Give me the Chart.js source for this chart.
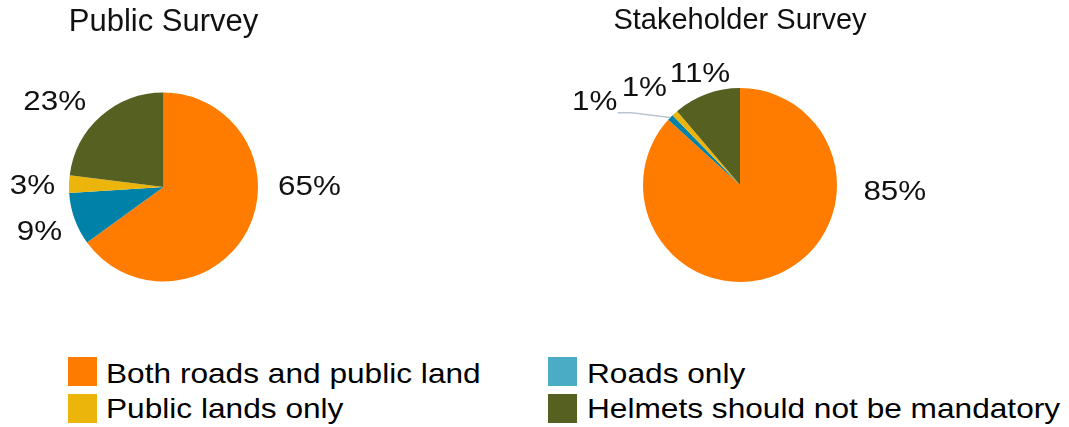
<!DOCTYPE html>
<html>
<head>
<meta charset="utf-8">
<script src="https://cdn.jsdelivr.net/npm/chart.js@4"></script>
<style>
  html, body { margin:0; padding:0; background:#fff; width:1069px; height:427px; overflow:hidden; font-family:"Liberation Sans", Arial, sans-serif; }
  #w1 { position:absolute; left:0; top:0; width:530px; height:300px; }
  #w2 { position:absolute; left:530px; top:0; width:539px; height:300px; }
  .box { position:absolute; width:29px; height:29px; }
  .txt { position:absolute; font-size:28px; line-height:28px; color:#000; white-space:nowrap; transform:scaleX(1.13); transform-origin:left center; }
</style>
</head>
<body>
<div id="w1"><canvas id="c1"></canvas></div>
<div id="w2"><canvas id="c2"></canvas></div>
<div id="legend"></div>
<script>
// ---- data ----
const categories = ['Both roads and public land', 'Roads only', 'Public lands only', 'Helmets should not be mandatory'];
const publicValues = [65, 9, 3, 23];
const stakeholderValues = [85, 1, 1, 11];
const chartTitles = ['Public Survey', 'Stakeholder Survey'];

// ---- styles ----
const sliceColors = ['#FF7C00', '#0081A8', '#EBB50B', '#556021'];
const legendColors = ['#FF7C00', '#4BACC6', '#EBB50B', '#556021'];
const textColor = '#111';

const pctLabelPlugin = {
  id: 'pctLabels',
  afterDatasetsDraw(chart, args, opts) {
    const ctx = chart.ctx;
    const meta = chart.getDatasetMeta(0);
    const ds = chart.data.datasets[0];
    meta.data.forEach((arc, i) => {
      const p = opts.place[i];
      const a = p.angle * Math.PI / 180;
      const cx = arc.x, cy = arc.y;
      const lx = cx + p.dist * Math.sin(a), ly = cy - p.dist * Math.cos(a);
      if (p.leader) {
        const mid = (arc.startAngle + arc.endAngle) / 2;
        const sx = cx + arc.outerRadius * Math.cos(mid), sy = cy + arc.outerRadius * Math.sin(mid);
        ctx.save();
        ctx.strokeStyle = opts.leaderColor;
        ctx.lineWidth = 1.5;
        ctx.beginPath();
        ctx.moveTo(sx, sy);
        ctx.lineTo(lx + p.leader[0][0], ly + p.leader[0][1]);
        ctx.lineTo(lx + p.leader[1][0], ly + p.leader[1][1]);
        ctx.stroke();
        ctx.restore();
      }
      ctx.save();
      ctx.translate(lx, ly);
      ctx.scale(opts.stretch, 1);
      ctx.font = opts.font;
      ctx.fillStyle = opts.color;
      ctx.textAlign = 'center';
      ctx.textBaseline = 'middle';
      ctx.fillText(ds.data[i] + '%', 0, 0);
      ctx.restore();
    });
  }
};

function makePie(id, title, values, titleSize, titlePad, layoutPad, place) {
  return new Chart(document.getElementById(id), {
    type: 'pie',
    data: {
      labels: categories,
      datasets: [{ data: values, backgroundColor: sliceColors, borderWidth: 0, hoverOffset: 0 }]
    },
    options: {
      responsive: true,
      maintainAspectRatio: false,
      animation: false,
      layout: { padding: layoutPad },
      plugins: {
        legend: { display: false },
        tooltip: { enabled: false },
        title: {
          display: true,
          text: title,
          color: textColor,
          font: { family: '"Liberation Sans", Arial, sans-serif', size: titleSize, weight: 'normal' },
          padding: titlePad
        },
        pctLabels: {
          place: place,
          font: '28px "Liberation Sans", Arial, sans-serif',
          color: textColor,
          stretch: 1.12,
          leaderColor: '#B9C5D1'
        }
      }
    },
    plugins: [pctLabelPlugin]
  });
}

makePie('c1', chartTitles[0], publicValues, 31, { top: 4, bottom: 51.3 }, { left: 0, right: 203, top: 0, bottom: 18.5 }, [
  { angle: 90, dist: 146 },
  { angle: 250, dist: 132 },
  { angle: 270.4, dist: 131 },
  { angle: 308, dist: 138 }
]);

makePie('c2', chartTitles[1], stakeholderValues, 29, { top: 3.6, bottom: 49.6 }, { left: 0, right: 119, top: 0, bottom: 18 }, [
  { angle: 92.8, dist: 155 },
  { angle: 299.5, dist: 167, leader: [[37, 10], [23, 10]] },
  { angle: 315.3, dist: 136 },
  { angle: 340.2, dist: 118 }
]);

// ---- legend ----
const legendEl = document.getElementById('legend');
const colBoxX = [68, 548], colTextX = [106, 587];
const rowBoxY = [357, 394], rowTextCenter = [374, 409];
categories.forEach((name, i) => {
  const col = i % 2, row = Math.floor(i / 2);
  const b = document.createElement('div');
  b.className = 'box';
  b.style.left = colBoxX[col] + 'px';
  b.style.top = rowBoxY[row] + 'px';
  b.style.background = legendColors[i];
  legendEl.appendChild(b);
  const t = document.createElement('div');
  t.className = 'txt';
  t.textContent = name;
  t.style.left = colTextX[col] + 'px';
  t.style.top = (rowTextCenter[row] - 14) + 'px';
  legendEl.appendChild(t);
});
</script>
</body>
</html>
